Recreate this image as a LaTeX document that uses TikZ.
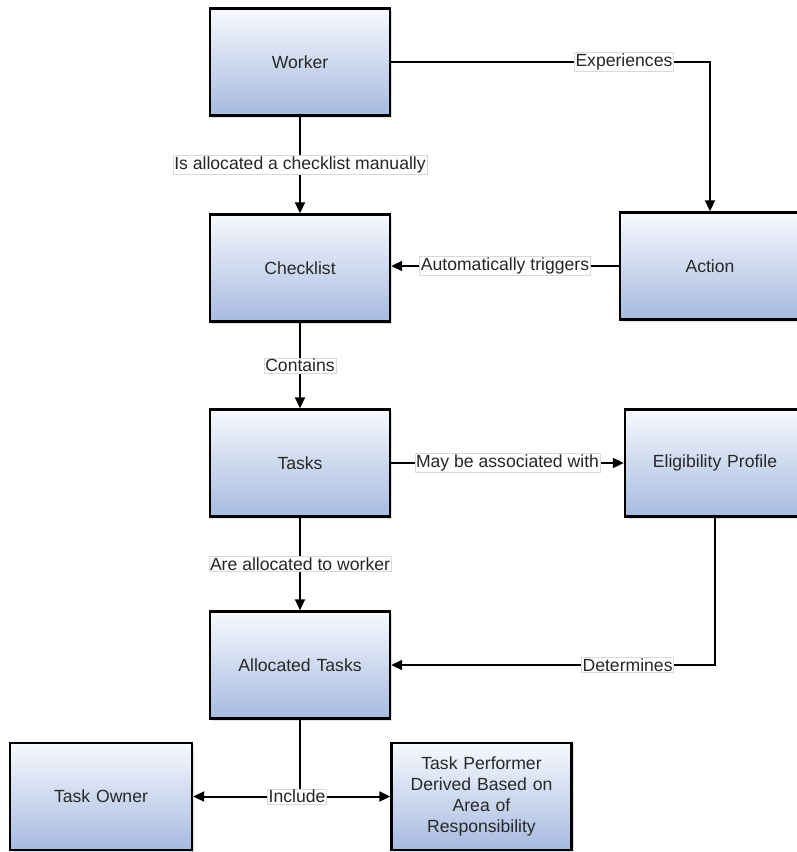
\documentclass[tikz,border=0pt]{standalone}
\usepackage{fontspec}
\setmainfont{Liberation Sans}
\usepackage{xcolor}
\usepackage{tikz}
\usetikzlibrary{arrows.meta,positioning,shadows}

\definecolor{boxtop}{RGB}{247,249,253}
\definecolor{boxbot}{RGB}{166,186,224}
\definecolor{txtgray}{RGB}{40,40,40}

\begin{document}
\begin{tikzpicture}[
  x=0.5pt, y=-0.5pt,
  entity/.style={draw, line width=1.2pt, top color=boxtop, bottom color=boxbot,
    minimum width=90pt, minimum height=53.5pt, inner sep=2pt,
    text width=84pt, align=center, text=txtgray,
    font=\fontsize{8.8}{10.6}\selectfont,
    drop shadow={shadow xshift=1.2pt, shadow yshift=-1.2pt, opacity=0.25}},
  arrow/.style={-{Triangle[length=5.5pt,width=5pt]}, line width=1pt},
  link/.style={line width=1pt},
  rel/.style={draw=black!15, fill=white, inner sep=0.6pt, line width=0.3pt,
    font=\fontsize{8.8}{10.6}\selectfont, text=black!85},
]
\useasboundingbox (0,0) rectangle (797,852);

\node[entity] (worker) at (300,62) {Worker};
\node[entity] (checklist) at (300,268) {Checklist};
\node[entity] (action) at (710,266) {Action};
\node[entity] (tasks) at (300,463) {Tasks};
\node[entity] (elig) at (715,463) {Eligibility Profile};
\node[entity] (alloc) at (300,665) {Allocated Tasks};
\node[entity, minimum width=91pt] (owner) at (101,796.5) {Task Owner};
\node[entity] (performer) at (481.5,796.5) {Task Performer\\Derived Based on\\Area of\\Responsibility};

\coordinate (inc) at (alloc.south |- owner.east);

\draw[arrow] (worker.east) -| node[rel, pos=0.365] {Experiences} (action.north);
\draw[arrow] (worker) -- node[rel] {Is allocated a checklist manually} (checklist);
\draw[arrow] (action.west) -- node[rel, pos=0.5] {Automatically triggers} (action.west -| checklist.east);
\draw[arrow] (checklist) -- node[rel] {Contains} (tasks);
\draw[arrow] (tasks) -- node[rel, pos=0.5] {May be associated with} (elig);
\draw[arrow] (tasks) -- node[rel] {Are allocated to worker} (alloc);
\draw[arrow] (elig.south) |- node[rel, pos=0.635] {Determines} (alloc.east);
\draw[link] (alloc.south) -- (inc);
\draw[arrow] (inc) -- (owner.east);
\draw[arrow] (inc) -- (performer.west);
\node[rel] (include) at ([xshift=-1.5pt]inc) {Include};

\end{tikzpicture}
\end{document}
